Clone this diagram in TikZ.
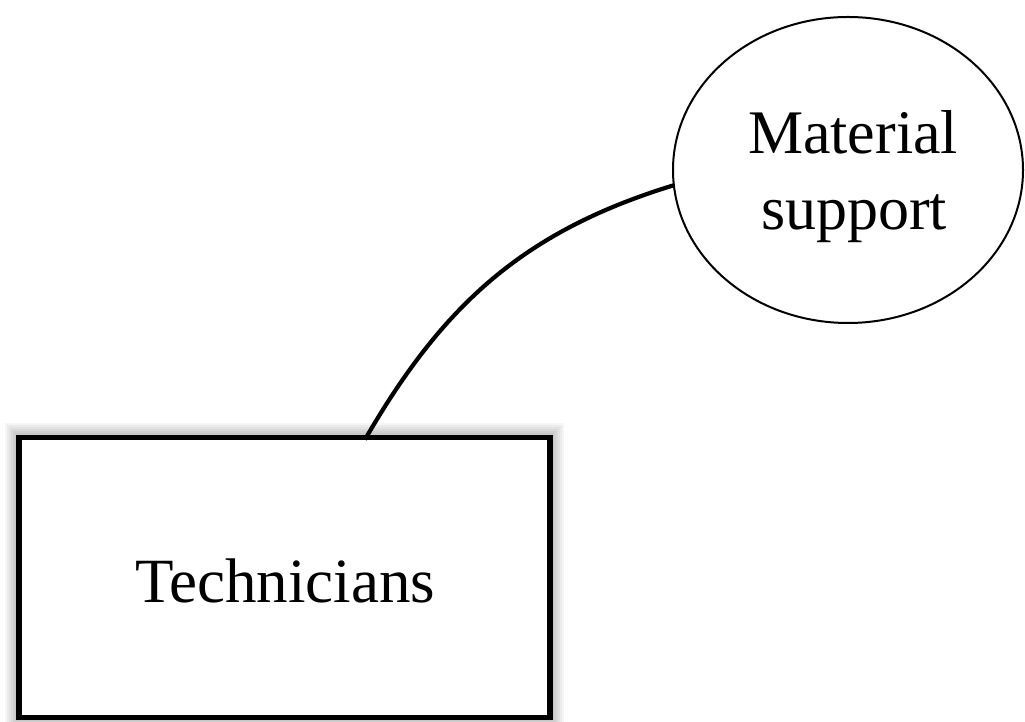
\documentclass[tikz,border=0pt]{standalone}
\usepackage{fontspec}
\setmainfont{Liberation Serif}
\usetikzlibrary{shapes.geometric,calc,backgrounds}
\begin{document}
\begin{tikzpicture}[x=1pt,y=1pt,
  boxnode/.style={draw, line width=5.5pt, fill=white, minimum width=531pt,
    minimum height=280pt, inner sep=0pt, outer sep=0pt},
  ovalnode/.style={ellipse, draw, line width=2pt, fill=white, minimum width=350pt,
    minimum height=306pt, inner sep=0pt, outer sep=0pt},
  labeltext/.style={font=\fontsize{62}{76}\selectfont, anchor=base, inner sep=0pt},
  link/.style={line width=4.2pt}]
\useasboundingbox (0,0) rectangle (1025,722);
% box with its caption
\node[boxnode] (tech) at (284.5,144.5) {};
\node[labeltext, font=\fontsize{63}{76}\selectfont] (techText) at (285,119) {Technicians};
% oval with its two-line caption
\node[ovalnode] (mat) at (848,552) {};
\node[labeltext] (matTop) at (853,568) {Material};
\node[labeltext] (matBottom) at (854,492) {support};
% soft halo around the box
\begin{scope}[on background layer]
  \foreach \w in {8,12,...,28}
    \draw[line width=\w pt, black, opacity=0.04] (tech.south west) rectangle (tech.north east);
\end{scope}
% curved link from box to oval
\draw[link] ($(tech.north)+(80.5,-2)$) to[out=60,in=197] (mat.185.5);
\end{tikzpicture}
\end{document}
